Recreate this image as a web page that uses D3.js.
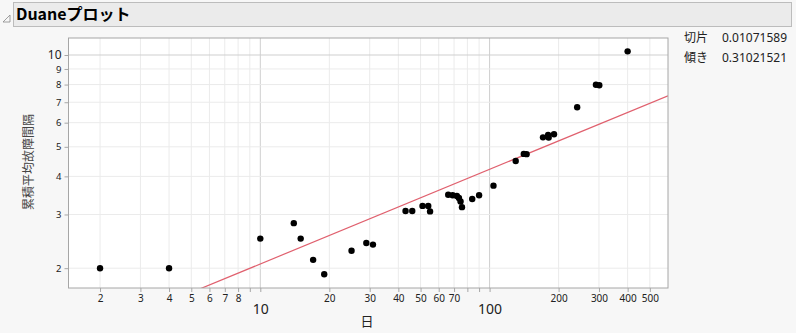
<!DOCTYPE html>
<html lang="ja">
  <head>
    <meta charset="UTF-8" />
    <title>Duaneプロット</title>
    <script src="https://cdn.jsdelivr.net/npm/d3@7"></script>
    <style>
      body {
        margin: 0;
        background: #f7f7f7;
        font-family: "Noto Sans", "Noto Sans CJK JP", sans-serif;
      }
    </style>
  </head>
  <body>
    <div id="chart"></div>
    <script>
      // observed points (days, cumulative MTBF)
      let days = [2, 4, 10, 14, 15, 17, 19, 25, 29, 31, 43, 46, 51, 54, 55,
        66, 69, 72, 73.5, 74.7, 75.8, 84, 90, 104, 130, 141, 145, 171, 180, 181,
        191, 241, 291, 301, 400];
      let mtbf = [2, 2, 2.5, 2.81, 2.5, 2.13, 1.91, 2.28, 2.42, 2.39, 3.08, 3.08,
        3.2, 3.2, 3.07, 3.48, 3.47, 3.45, 3.4, 3.31, 3.17, 3.37, 3.47, 3.73, 4.49,
        4.74, 4.73, 5.37, 5.47, 5.36, 5.5, 6.74, 7.99, 7.96, 10.28];

      // fit results shown at right
      let intercept = 0.01071589;
      let slope = 0.31021521;
      let statLabels = ["切片", "傾き"];
      let statValues = ["0.01071589", "0.31021521"];

      let xTicks = [2, 3, 4, 5, 6, 7, 8, 9, 10, 20, 30, 40, 50, 60, 70, 80, 90, 100, 200, 300, 400, 500];
      let xLabeled = [2, 3, 4, 5, 6, 7, 8, 20, 30, 40, 50, 60, 70, 200, 300, 400, 500];
      let yTicks = [2, 3, 4, 5, 6, 7, 8, 9, 10];
      let bigTicks = [10, 100];

      let W = 796, H = 333;
      let frame = { left: 68.5, right: 668, top: 38, bottom: 288 };

      let svg = d3.select("#chart").append("svg")
        .attr("width", W).attr("height", H)
        .attr("display", "block");

      // title bar
      svg.append("path")
        .attr("d", "M3,22 L10,15 L10,22 Z")
        .attr("fill", "none").attr("stroke", "#888").attr("stroke-width", 0.8);
      svg.append("rect")
        .attr("x", 13.5).attr("y", 2.5).attr("width", 778).attr("height", 24)
        .attr("fill", "#ebebeb").attr("stroke", "#bcbcbc");
      svg.append("text")
        .attr("x", 16).attr("y", 20)
        .attr("font-size", "16px").attr("font-weight", "bold")
        .attr("font-family", "'Noto Sans CJK JP', sans-serif")
        .text("Duaneプロット");

      let x = d3.scaleLog().domain([1.457, 600]).range([frame.left, frame.right]);
      let y = d3.scaleLog().domain([1.722, 11.37]).range([frame.bottom, frame.top]);

      svg.append("rect")
        .attr("x", frame.left).attr("y", frame.top)
        .attr("width", frame.right - frame.left)
        .attr("height", frame.bottom - frame.top)
        .attr("fill", "white");

      // grid
      let grid = svg.append("g");
      grid.selectAll("line.gx").data(xTicks).enter().append("line")
        .attr("x1", d => x(d)).attr("x2", d => x(d))
        .attr("y1", frame.top).attr("y2", frame.bottom)
        .attr("stroke", d => bigTicks.includes(d) ? "#cfcfcf" : "#ebebeb");
      grid.selectAll("line.gy").data(yTicks).enter().append("line")
        .attr("y1", d => y(d)).attr("y2", d => y(d))
        .attr("x1", frame.left).attr("x2", frame.right)
        .attr("stroke", d => bigTicks.includes(d) ? "#cfcfcf" : "#ebebeb");

      // fit line: ln(y) = intercept + slope * ln(x)
      let fit = d => Math.exp(intercept) * Math.pow(d, slope);
      svg.append("clipPath").attr("id", "plotclip").append("rect")
        .attr("x", frame.left).attr("y", frame.top)
        .attr("width", frame.right - frame.left)
        .attr("height", frame.bottom - frame.top);
      svg.append("path")
        .datum(x.domain())
        .attr("clip-path", "url(#plotclip)")
        .attr("d", d3.line().x(d => x(d)).y(d => y(fit(d))))
        .attr("fill", "none").attr("stroke", "#e0606e").attr("stroke-width", 1.2);

      // points
      svg.append("g").selectAll("circle")
        .data(days.map((d, i) => [d, mtbf[i]]))
        .enter().append("circle")
        .attr("cx", d => x(d[0])).attr("cy", d => y(d[1]))
        .attr("r", 3.2).attr("fill", "black");

      // frame
      svg.append("rect")
        .attr("x", frame.left).attr("y", frame.top)
        .attr("width", frame.right - frame.left)
        .attr("height", frame.bottom - frame.top)
        .attr("fill", "none").attr("stroke", "#a6a6a6");

      // axes
      let xAxis = svg.append("g")
        .attr("transform", `translate(0,${frame.bottom})`)
        .call(d3.axisBottom(x).tickValues(xTicks).tickSize(4).tickPadding(3)
          .tickFormat(d => bigTicks.includes(d) ? d : (xLabeled.includes(d) ? d : "")));
      xAxis.select(".domain").remove();
      xAxis.selectAll("line").attr("stroke", "#a6a6a6");
      xAxis.selectAll("text")
        .attr("font-family", "'Noto Sans', sans-serif")
        .attr("fill", "#222")
        .attr("font-size", d => bigTicks.includes(d) ? "14px" : "10px")
        .attr("dy", d => bigTicks.includes(d) ? "1.35em" : "0.71em");

      let yAxis = svg.append("g")
        .attr("transform", `translate(${frame.left},0)`)
        .call(d3.axisLeft(y).tickValues(yTicks).tickSize(4).tickPadding(3)
          .tickFormat(d => d));
      yAxis.select(".domain").remove();
      yAxis.selectAll("line").attr("stroke", "#a6a6a6");
      yAxis.selectAll("text")
        .attr("font-family", "'Noto Sans', sans-serif")
        .attr("fill", "#222")
        .attr("font-size", d => bigTicks.includes(d) ? "12px" : "9.5px")
        .attr("dy", "0.32em");

      // axis titles
      svg.append("text")
        .attr("x", 367).attr("y", 326)
        .attr("text-anchor", "middle")
        .attr("font-size", "13px").attr("fill", "#222")
        .text("日");
      svg.append("text")
        .attr("transform", "translate(33,162) rotate(-90)")
        .attr("text-anchor", "middle")
        .attr("font-size", "12px").attr("fill", "#444")
        .text("累積平均故障間隔");

      // fit statistics
      let stats = svg.append("g").attr("font-size", "12px").attr("fill", "#222");
      statLabels.forEach((label, i) => {
        stats.append("text").attr("x", 684).attr("y", 42 + i * 20).text(label);
        stats.append("text").attr("x", 722).attr("y", 42 + i * 20)
          .attr("font-family", "'Noto Sans', sans-serif").text(statValues[i]);
      });
    </script>
  </body>
</html>
